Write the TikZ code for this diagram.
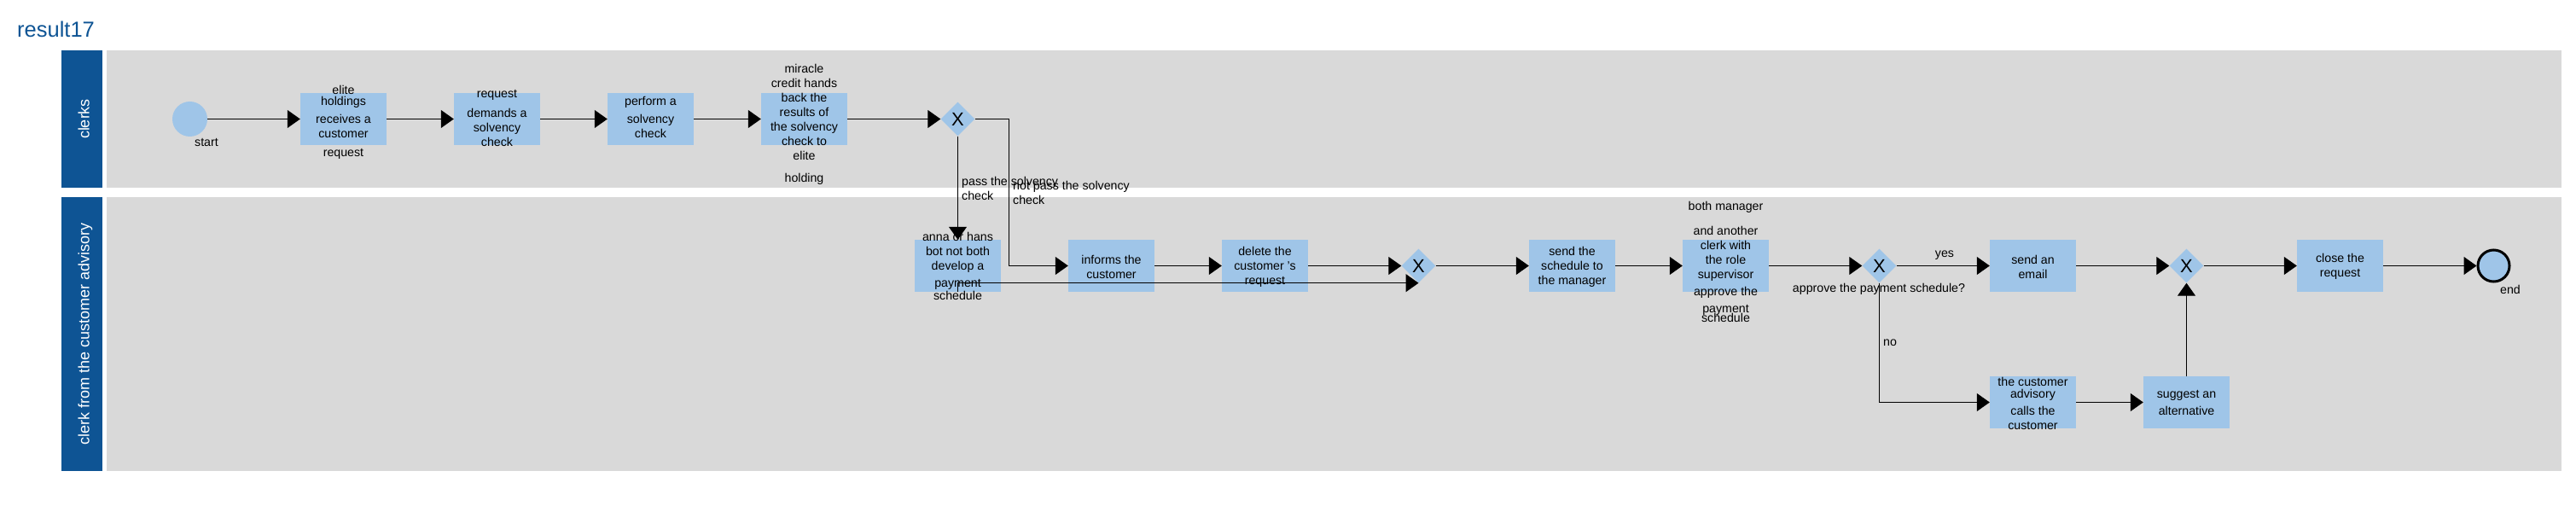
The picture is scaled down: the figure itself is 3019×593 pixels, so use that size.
\documentclass[tikz,border=0pt]{standalone}
\usepackage{fontspec}
\setmainfont{Liberation Sans}
\usetikzlibrary{arrows.meta, shapes.geometric}

\definecolor{lanegray}{HTML}{D9D9D9}
\definecolor{laneblue}{HTML}{0E5494}
\definecolor{taskblue}{HTML}{9FC5E8}
\newcommand{\tasksize}{\fontsize{14.2}{17}\selectfont}

\tikzset{
    flow/.style={-{Triangle[length=15pt,width=21pt]}, line width=1pt},
    task/.style={rectangle, fill=taskblue, minimum width=101pt, minimum height=61pt, inner sep=0pt},
    tasktext/.style={font=\tasksize, align=center, inner sep=0pt},
    gateway/.style={diamond, fill=taskblue, minimum width=40pt, minimum height=40pt, inner sep=0pt, font=\fontsize{22}{22}\selectfont},
    flowlabel/.style={font=\tasksize, inner sep=0pt},
    lanetitle/.style={rotate=90, anchor=base, inner sep=0pt, text=white, font=\fontsize{18}{20}\selectfont},
}

\begin{document}
\begin{tikzpicture}[x=1pt, y=-1pt]
    \useasboundingbox (0,0) rectangle (3019,593);

    % Title
    \node[anchor=base west, inner sep=0pt, text=laneblue, font=\fontsize{25.5}{30}\selectfont] (title) at (20,44) {result17};

    % Lanes
    \fill[laneblue] (72,59) rectangle (120,220);
    \fill[lanegray] (125,59) rectangle (3002,220);
    \fill[laneblue] (72,231) rectangle (120,552);
    \fill[lanegray] (125,231) rectangle (3002,552);
    \node[lanetitle] (clerkslane) at (104.5,139.5) {clerks};
    \node[lanetitle] (advisorylane) at (104.5,391.5) {clerk from the customer advisory};

    % Start event
    \node[circle, fill=taskblue, minimum size=41pt, inner sep=0pt] (start) at (222.5,139.5) {};
    \node[flowlabel] (lblstart) at (242,167) {start};

    % Lane 1: clerks
    \node[task, label={[tasktext, yshift=-3.5pt]center:{elite\\[-4pt]holdings\\[4pt]receives a\\customer\\[5pt]request}}] (recv) at (402.5,139.5) {};
    \node[task, label={[tasktext, yshift=1.5pt]center:{request\\[6pt]demands a\\solvency\\check}}] (demand) at (582.5,139.5) {};
    \node[task, label={[tasktext, yshift=2pt]center:{perform a\\[4pt]solvency\\check}}] (perform) at (762.5,139.5) {};
    \node[task, label={[tasktext, yshift=-6pt]center:{miracle\\credit hands\\back the\\results of\\the solvency\\check to\\elite\\[9pt]holding}}] (results) at (942.5,139.5) {};
    \node[gateway] (gwcheck) at (1122.5,139.5) {X};

    % Lane 2: clerk from the customer advisory
    \node[task, label={[tasktext]center:{anna or hans\\bot not both\\develop a\\[3pt]payment\\[-2pt]schedule}}] (develop) at (1122.5,311.5) {};
    \node[task, label={[tasktext, yshift=-1pt]center:{informs the\\customer}}] (inform) at (1302.5,311.5) {};
    \node[task, label={[tasktext, yshift=-1.5pt]center:{delete the\\customer 's\\request}}] (delreq) at (1482.5,311.5) {};
    \node[gateway] (gwjoin) at (1662.5,311.5) {X};
    \node[task, label={[tasktext, yshift=-1.5pt]center:{send the\\schedule to\\the manager}}] (sendsched) at (1842.5,311.5) {};
    \node[task, label={[tasktext, yshift=5pt]center:{both manager\\[12pt]and another\\clerk with\\the role\\supervisor\\[3pt]approve the\\[3pt]payment\\[-6pt]schedule}}] (approve) at (2022.5,311.5) {};
    \node[gateway] (gwapprove) at (2202.5,311.5) {X};
    \node[task, label={[tasktext, yshift=-1pt]center:{send an\\email}}] (email) at (2382.5,311.5) {};
    \node[gateway] (gwmerge) at (2562.5,311.5) {X};
    \node[task, label={[tasktext, yshift=-1pt]center:{close the\\request}}] (close) at (2742.5,311.5) {};

    % Lower row (not approved)
    \node[task, label={[tasktext, yshift=-1pt]center:{the customer\\[-3pt]advisory\\[3pt]calls the\\customer}}] (calls) at (2382.5,471.5) {};
    \node[task, label={[tasktext]center:{suggest an\\[3pt]alternative}}] (suggest) at (2562.5,471.5) {};

    % End event
    \node[circle, draw=black, line width=3pt, fill=taskblue, minimum size=37pt, inner sep=0pt] (finish) at (2922.5,311.5) {};
    \node[flowlabel] (lblend) at (2942,339) {end};

    % Straight sequence flows
    \foreach \a/\b in {start/recv, recv/demand, demand/perform, perform/results, results/gwcheck, gwcheck/develop, inform/delreq, delreq/gwjoin, gwjoin/sendsched, sendsched/approve, approve/gwapprove, gwapprove/email, email/gwmerge, gwmerge/close, close/finish, calls/suggest, suggest/gwmerge}
        \draw[flow] (\a) -- (\b);

    % Bent sequence flows
    \draw[flow] (gwcheck.east) -- ++(40,0) |- (inform.west);
    \draw[flow] (develop.south) |- (gwjoin.south);
    \draw[flow] (gwapprove.south) |- (calls.west);

    % Flow labels
    \node[flowlabel, anchor=west, align=left] (lblpass) at (1127,220.5) {pass the solvency\\check};
    \node[flowlabel, anchor=west, align=left] (lblnotpass) at (1187,225.5) {not pass the solvency\\check};
    \node[flowlabel] (lblyes) at (2279,299) {yes};
    \node[flowlabel] (lblno) at (2215,402) {no};
    \node[flowlabel] (lblapprove) at (2202,339) {approve the payment schedule?};

\end{tikzpicture}
\end{document}
